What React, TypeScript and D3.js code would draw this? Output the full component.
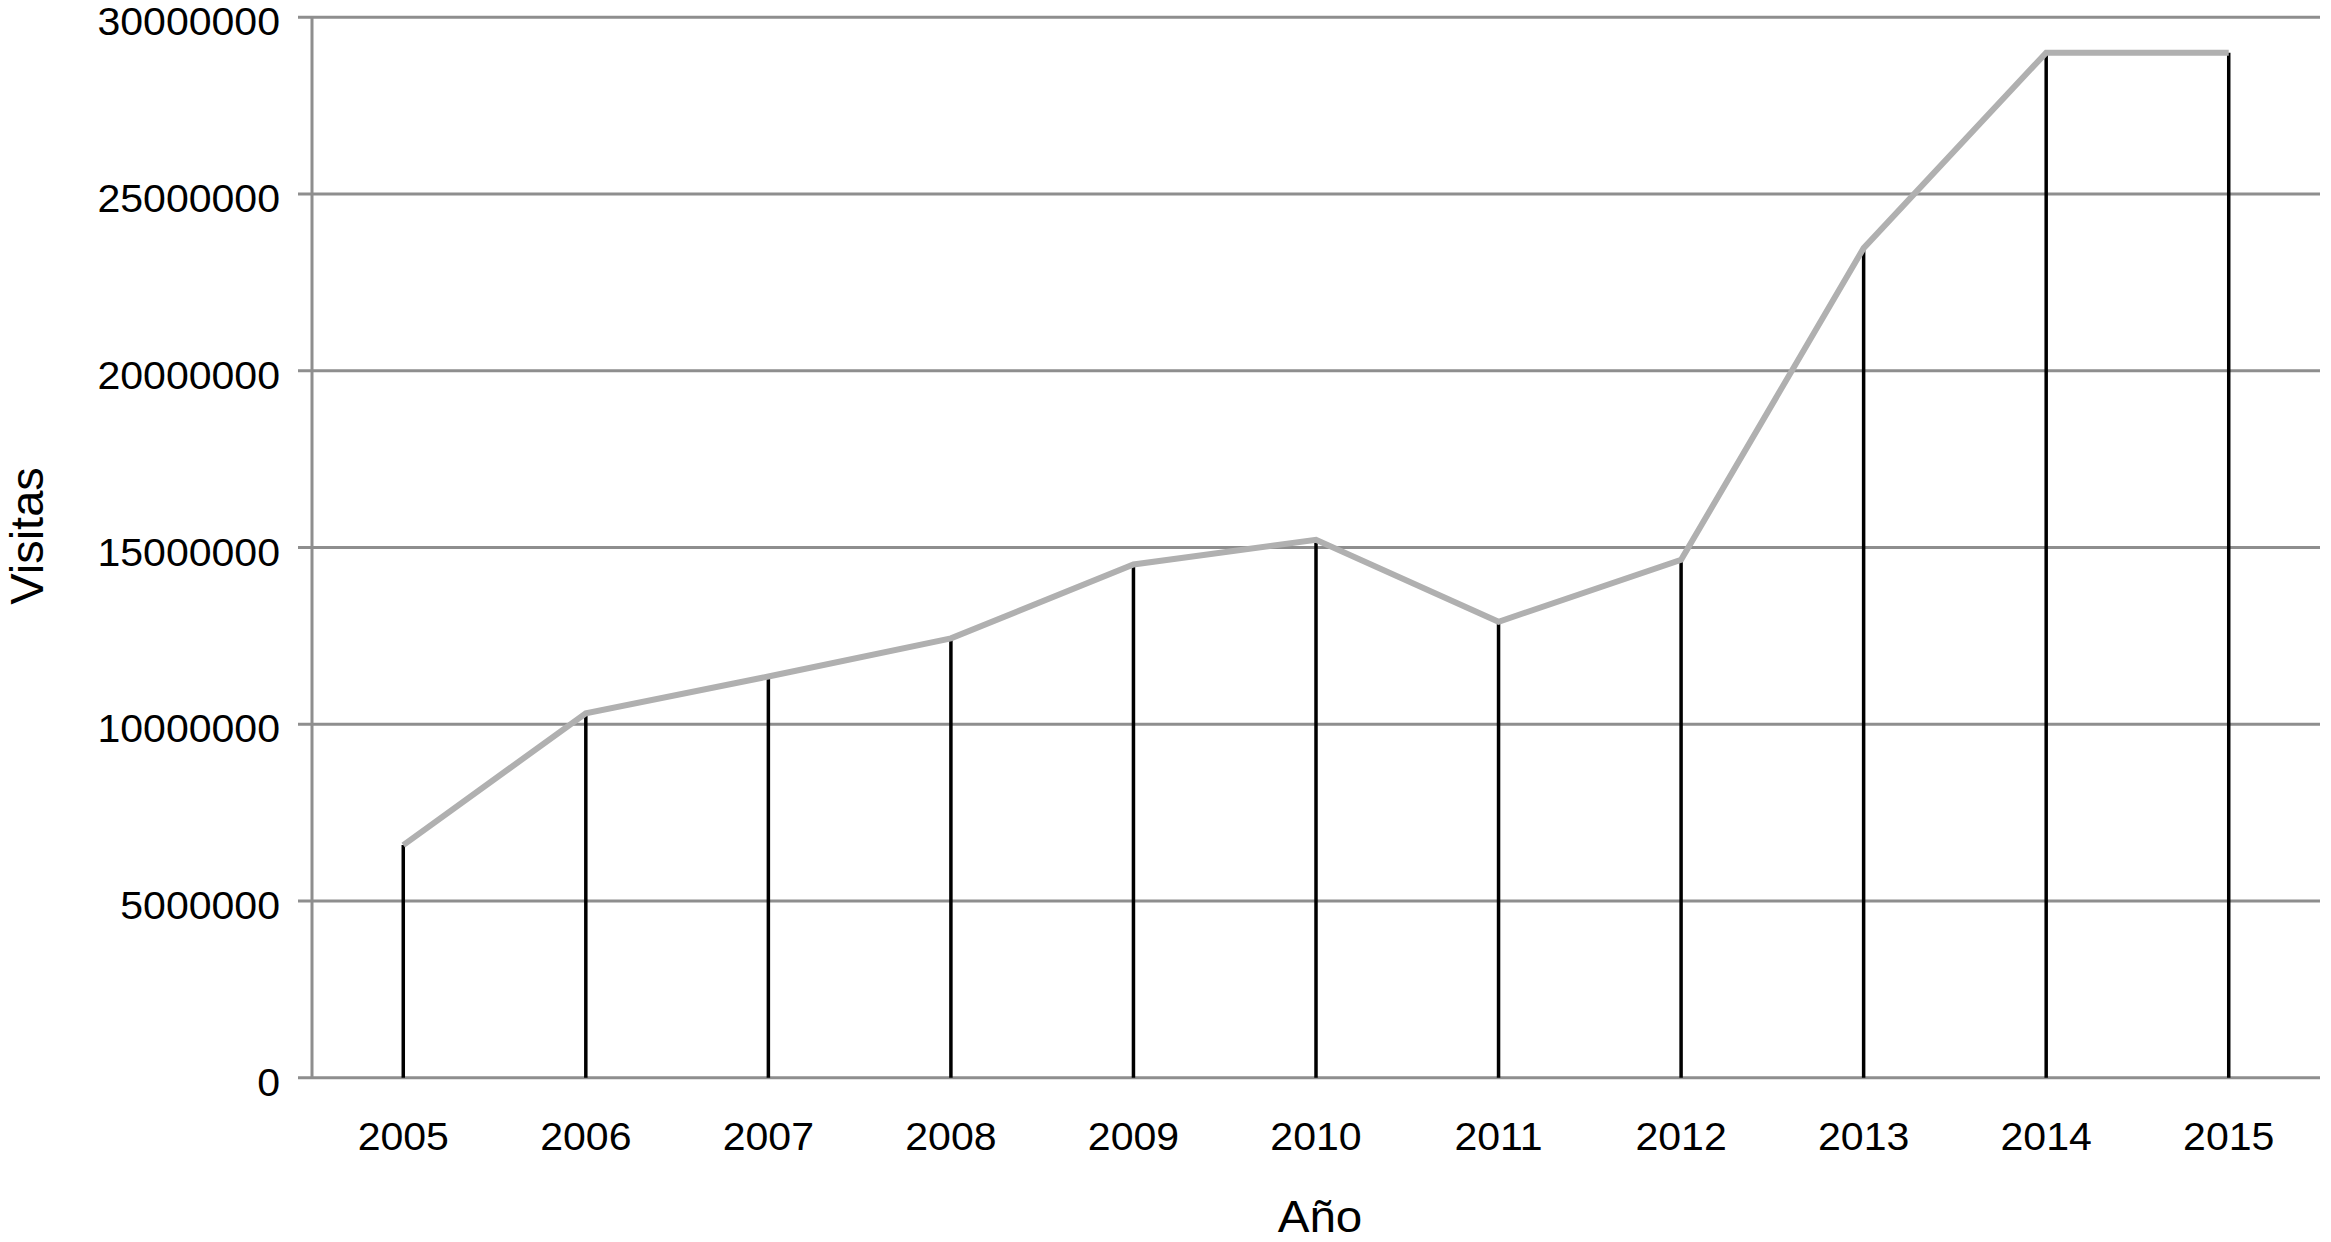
import React from "react";
import * as d3 from "d3";

const years = ["2005","2006","2007","2008","2009","2010","2011","2012","2013","2014","2015"];
const visitas = [6580000, 10310000, 11350000, 12430000, 14520000, 15220000, 12900000, 14650000, 23470000, 29000000, 29000000];
const yTicks = [0, 5000000, 10000000, 15000000, 20000000, 25000000, 30000000];
const xTitle = "Año";
const yTitle = "Visitas";

const W = 2331;
const H = 1242;
const left = 312;
const right = 2320;
const top = 17.3;
const bottom = 1077.7;
const SX = 1.08;
const FONT = "'Liberation Sans', Arial, Helvetica, sans-serif";

export default function App() {
  const x = d3.scaleBand<string>().domain(years).range([left, right]).padding(0);
  const y = d3.scaleLinear().domain([0, 30000000]).range([bottom, top]);
  const cx = (yr: string) => (x(yr) as number) + x.bandwidth() / 2;
  const line = d3
    .line<number>()
    .x((_, i) => cx(years[i]))
    .y((d) => y(d));

  return (
    <svg
      width={W}
      height={H}
      style={{ position: "absolute", left: 0, top: 0, background: "#fff" }}
      fontFamily={FONT}
    >
      <rect x={0} y={0} width={W} height={H} fill="#fff" />
      {yTicks.map((t) => (
        <line key={t} x1={298} x2={right} y1={y(t)} y2={y(t)} stroke="#8e8e8e" strokeWidth={3} />
      ))}
      <line x1={left} x2={left} y1={top} y2={bottom} stroke="#8e8e8e" strokeWidth={3} />
      {yTicks.map((t) => (
        <text
          key={"l" + t}
          transform={`translate(280,${y(t) + 18}) scale(${SX},1)`}
          textAnchor="end"
          fontSize={38}
          fill="#000"
        >
          {String(t)}
        </text>
      ))}
      {visitas.map((v, i) => (
        <line
          key={"s" + i}
          x1={cx(years[i])}
          x2={cx(years[i])}
          y1={y(0)}
          y2={y(v)}
          stroke="#000"
          strokeWidth={3.5}
        />
      ))}
      <path d={line(visitas) || ""} fill="none" stroke="#b0b0b0" strokeWidth={6} strokeLinejoin="miter" />
      {years.map((yr) => (
        <text
          key={"x" + yr}
          transform={`translate(${cx(yr)},1150) scale(${SX},1)`}
          textAnchor="middle"
          fontSize={38}
          fill="#000"
        >
          {yr}
        </text>
      ))}
      <text
        transform={`translate(1320,1232) scale(${SX},1)`}
        textAnchor="middle"
        fontSize={44}
        fill="#000"
      >
        {xTitle}
      </text>
      <text
        transform={`translate(43,536) rotate(-90)`}
        textAnchor="middle"
        fontSize={47}
        fill="#000"
      >
        {yTitle}
      </text>
    </svg>
  );
}
